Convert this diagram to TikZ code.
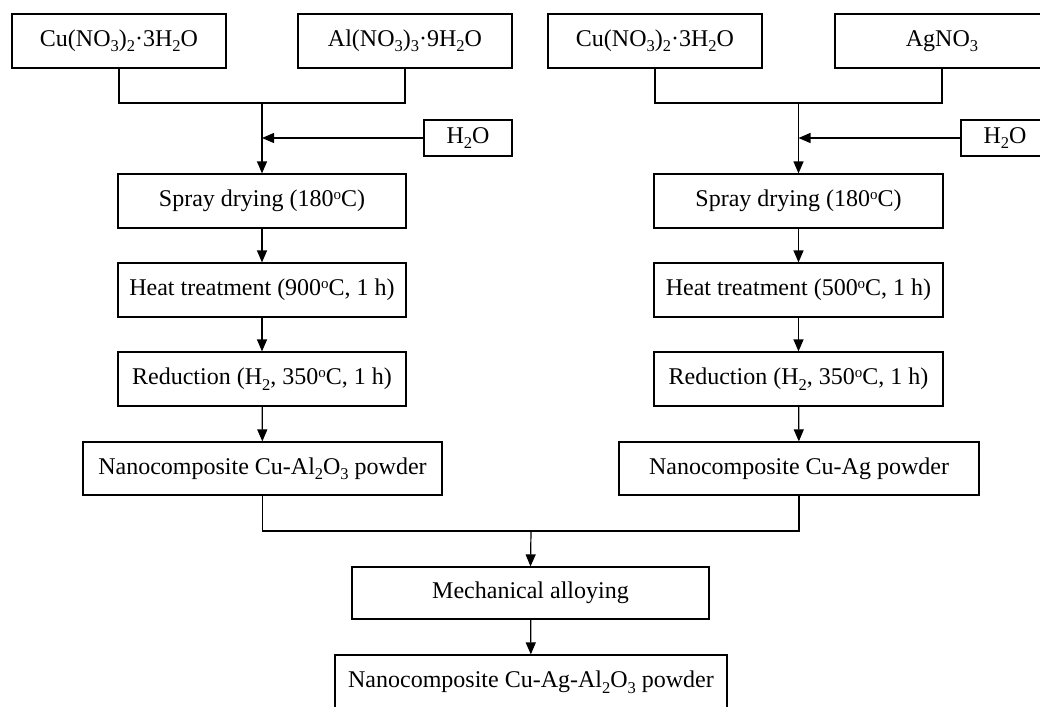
\documentclass[tikz,border=0pt]{standalone}
\usepackage{fontspec}
\setmainfont{Liberation Serif}
\usetikzlibrary{arrows.meta}
\tikzset{
  box/.style={draw, line width=1.2pt, inner sep=0pt, font=\fontsize{24}{28}\selectfont},
  link/.style={line width=1.2pt},
  arr/.style={line width=1.2pt, -{Triangle[length=12pt,width=10pt]}}
}
\newcommand{\dg}{\raisebox{7pt}{\fontsize{15}{15}\selectfont o}}
\newcommand{\sub}[1]{\raisebox{-5.5pt}{\fontsize{16.5}{16.5}\selectfont #1}}
\begin{document}
\begin{tikzpicture}[x=1pt,y=-1pt]
\clip (0,0) rectangle (1040,706);
\fill[white] (0,0) rectangle (1040,706);
% top inputs
\node[box, minimum width=214, minimum height=54] (cu1) at (119,41) {Cu(NO\sub{3})\sub{2}·3H\sub{2}O};
\node[box, minimum width=214, minimum height=54] (al) at (405,41) {Al(NO\sub{3})\sub{3}·9H\sub{2}O};
\node[box, minimum width=214, minimum height=54] (cu2) at (655,41) {Cu(NO\sub{3})\sub{2}·3H\sub{2}O};
\node[box, minimum width=214, minimum height=54] (ag) at (942,41) {AgNO\sub{3}};
% water
\node[box, minimum width=88, minimum height=36] (h1) at (468,138) {H\sub{2}O};
\node[box, minimum width=88, minimum height=36] (h2) at (1005,138) {H\sub{2}O};
% left column
\node[box, minimum width=288, minimum height=54] (sp1) at (262,201) {Spray drying (180\dg C)};
\node[box, minimum width=288, minimum height=54] (ht1) at (262,290) {Heat treatment (900\dg C, 1 h)};
\node[box, minimum width=288, minimum height=54] (rd1) at (262,379) {Reduction (H\sub{2}, 350\dg C, 1 h)};
\node[box, minimum width=359, minimum height=53] (nc1) at (262.5,468.5) {Nanocomposite Cu-Al\sub{2}O\sub{3} powder};
% right column
\node[box, minimum width=289, minimum height=54] (sp2) at (798.5,201) {Spray drying (180\dg C)};
\node[box, minimum width=289, minimum height=54] (ht2) at (798.5,290) {Heat treatment (500\dg C, 1 h)};
\node[box, minimum width=289, minimum height=54] (rd2) at (798.5,379) {Reduction (H\sub{2}, 350\dg C, 1 h)};
\node[box, minimum width=360, minimum height=53] (nc2) at (799,468.5) {Nanocomposite Cu-Ag powder};
% bottom
\node[box, minimum width=357, minimum height=52] (ma) at (530.5,593) {Mechanical alloying};
\node[box, minimum width=392, minimum height=54] (fin) at (531,682) {Nanocomposite Cu-Ag-Al\sub{2}O\sub{3} powder};
% junctions
\coordinate (j1) at (262,103);
\coordinate (w1) at (262,138);
\coordinate (j2) at (798.5,103);
\coordinate (w2) at (798.5,138);
\coordinate (j3) at (531,531);
% connectors
\draw[link] (cu1.south) |- (j1) -| (al.south);
\draw[arr] (j1) -- (sp1.north);
\draw[arr] (h1.west) -- (w1);
\draw[arr] (sp1) -- (ht1);
\draw[arr] (ht1) -- (rd1);
\draw[arr] (rd1) -- (nc1);
\draw[link] (cu2.south) |- (j2) -| (ag.south);
\draw[arr] (j2) -- (sp2.north);
\draw[arr] (h2.west) -- (w2);
\draw[arr] (sp2) -- (ht2);
\draw[arr] (ht2) -- (rd2);
\draw[arr] (rd2) -- (nc2);
\draw[link] (nc1.south) |- (j3) -| (nc2.south);
\draw[arr] (j3) -- (ma.north);
\draw[arr] (ma) -- (fin);
\end{tikzpicture}
\end{document}
